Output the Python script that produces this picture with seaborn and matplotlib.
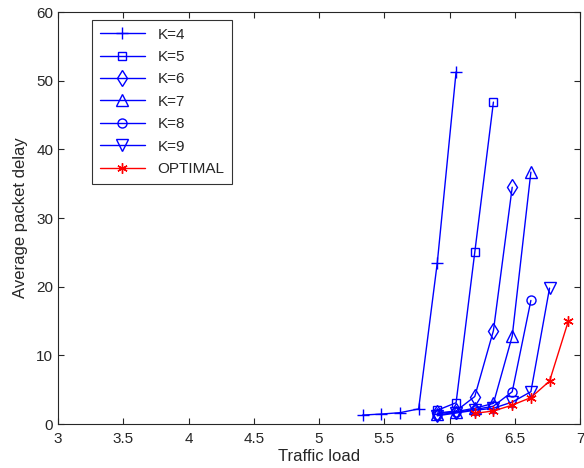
import matplotlib
matplotlib.use("Agg")
import matplotlib.pyplot as plt
import seaborn as sns
import pandas as pd

sns.set_style("ticks")
plt.rcParams['font.family'] = ['Liberation Sans', 'DejaVu Sans']

loads = [5.333, 5.476, 5.62, 5.763, 5.906, 6.05, 6.193, 6.336, 6.48, 6.623, 6.766, 6.91]

k4 = [1.3, 1.45, 1.65, 2.2, 23.5, 51.3]
k5 = [2.0, 3.1, 25.0, 46.9]
k6 = [1.6, 1.9, 4.0, 13.6, 34.5]
k7 = [1.5, 1.8, 2.3, 3.0, 12.8, 36.7]
k8 = [1.3, 1.7, 2.1, 2.6, 4.7, 18.0]
k9 = [1.2, 1.6, 2.0, 2.3, 3.2, 4.7, 19.8]
opt = [1.55, 1.9, 2.75, 3.85, 6.25, 15.0]

asterisk = (6, 2, 0)
series = [
    ("K=4", loads[0:6], k4, "+", "blue", 8.5),
    ("K=5", loads[4:8], k5, "s", "blue", 6),
    ("K=6", loads[4:9], k6, "d", "blue", 8.5),
    ("K=7", loads[4:10], k7, "^", "blue", 8),
    ("K=8", loads[4:10], k8, "o", "blue", 6.5),
    ("K=9", loads[4:11], k9, "v", "blue", 8),
    ("OPTIMAL", loads[6:12], opt, asterisk, "red", 7.5),
]

fig = plt.figure(figsize=(5.84, 4.68), dpi=100)
ax = fig.add_axes([0.0993, 0.094, 0.894, 0.880])

for name, xs, ys, mk, col, ms in series:
    df = pd.DataFrame({"x": xs, "y": ys})
    sns.lineplot(data=df, x="x", y="y", ax=ax, color=col, linewidth=1,
                 marker=mk, markersize=ms, markerfacecolor="none",
                 markeredgecolor=col, markeredgewidth=1, label=name)

ax.set_xlim(3, 7)
ax.set_ylim(0, 60)
ax.set_xticks([3, 3.5, 4, 4.5, 5, 5.5, 6, 6.5, 7])
ax.set_xticklabels(["3", "3.5", "4", "4.5", "5", "5.5", "6", "6.5", "7"])
ax.set_yticks([0, 10, 20, 30, 40, 50, 60])
ax.tick_params(direction="in", top=True, right=True, labelsize=11, length=4)
ax.tick_params(axis="x", pad=6)
ax.set_xlabel("Traffic load", fontsize=12, labelpad=2)
ax.set_ylabel("Average packet delay", fontsize=12, labelpad=6)
for s in ax.spines.values():
    s.set_linewidth(0.8)

leg = ax.legend(loc="upper left", bbox_to_anchor=(0.065, 0.981), frameon=True,
                fancybox=False, edgecolor="black", fontsize=11,
                handlelength=3, labelspacing=0.55, borderpad=0.5,
                borderaxespad=0)
leg.get_frame().set_linewidth(0.8)

fig.savefig("out.png", dpi=100)
